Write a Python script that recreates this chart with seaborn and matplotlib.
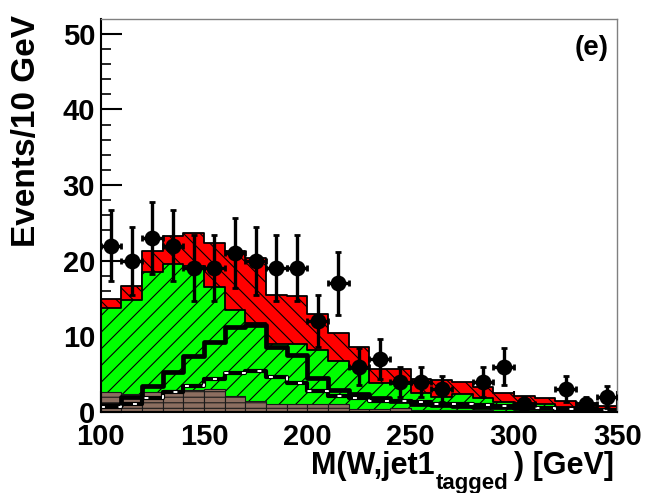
import numpy as np
import pandas as pd
import matplotlib
matplotlib.use("Agg")
import matplotlib.pyplot as plt
import seaborn as sns
from matplotlib.ticker import MultipleLocator

# ---------------- data ----------------
bin_lo = list(range(100, 350, 10))          # 25 bins of 10 GeV, 100..350
bin_edges = list(range(100, 351, 10))

brown = [2.6, 2.4, 2.7, 2.9, 2.9, 3.0, 2.1, 1.5, 1.1, 1.0, 1.0, 1.0, 0.4,
         0.4, 0.5, 0.3, 0.25, 0.2, 0.2, 0.15, 0.15, 0.1, 0.1, 0.1, 0.1]
green = [11.1, 12.4, 15.8, 16.6, 16.4, 13.5, 11.4, 10.3, 7.9, 8.0, 7.2, 5.8,
         5.3, 3.4, 3.2, 2.2, 1.75, 2.2, 1.6, 1.15, 1.05, 1.0, 0.6, 0.6, 0.35]
red = [1.2, 1.8, 2.8, 3.7, 4.4, 5.9, 7.8, 8.6, 6.4, 6.3, 4.7, 3.6, 2.9, 1.9,
       2.0, 1.9, 2.2, 1.5, 1.5, 1.2, 0.9, 0.7, 0.7, 0.5, 0.4]
signal_solid = [0.9, 2.0, 3.5, 5.3, 7.4, 9.3, 11.2, 11.5, 8.6, 7.6, 4.5, 2.9,
                2.4, 1.8, 1.5, 1.0, 0.9, 0.8, 0.7, 0.6, 0.5, 0.5, 0.4, 0.4, 0.3]
signal_dashed = [0.6, 1.0, 1.8, 2.6, 3.5, 4.4, 5.1, 5.4, 4.6, 3.8, 2.8, 2.1,
                 1.8, 1.5, 1.4, 1.3, 1.1, 1.0, 0.9, 0.75, 0.6, 0.5, 0.4, 0.4, 0.3]
data_counts = [22, 20, 23, 22, 19, 19, 21, 20, 19, 19, 12, 17, 6, 7, 4, 4, 3,
               0, 4, 6, 1, 0, 3, 1, 2]

x_ticks = [100, 150, 200, 250, 300, 350]
y_ticks = [0, 10, 20, 30, 40, 50]

# ---------------- style ----------------
sns.set_style("ticks")
plt.rcParams["font.family"] = ["Liberation Sans", "DejaVu Sans"]
plt.rcParams["font.weight"] = "bold"
plt.rcParams["hatch.linewidth"] = 0.8
plt.rcParams["text.color"] = "black"
plt.rcParams["xtick.labelcolor"] = "black"
plt.rcParams["ytick.labelcolor"] = "black"

df = pd.DataFrame({
    "center": [b + 5 for b in bin_lo],
    "brown": brown,
    "green_top": np.array(brown) + np.array(green),
})
df["total"] = df["green_top"] + np.array(red)
df["sig_solid"] = signal_solid
df["sig_dashed"] = signal_dashed
df["data"] = np.array(data_counts, dtype=float)

fig = plt.figure(figsize=(6.46, 4.93), dpi=100)
ax = fig.add_axes([0.1559, 0.1643, 0.7997, 0.7972])

# stacked backgrounds, drawn from the top of the stack down
sns.histplot(data=df, x="center", weights="total", bins=bin_edges, element="step",
             fill=True, color="#ff0000", alpha=1, edgecolor="black",
             linewidth=1.3, ax=ax)
ax.collections[-1].set_hatch("\\\\")
ax.collections[-1].set_edgecolor("black")

sns.histplot(data=df, x="center", weights="green_top", bins=bin_edges, element="step",
             fill=True, color="#00ff00", alpha=1, edgecolor="black",
             linewidth=1.3, ax=ax)
ax.collections[-1].set_hatch("//")
ax.collections[-1].set_edgecolor("black")

sns.histplot(data=df, x="center", weights="brown", bins=bin_edges, element="bars",
             fill=True, color="#8c6e60", alpha=1, edgecolor="black",
             linewidth=0.8, ax=ax)
for p in ax.patches:
    p.set_hatch("---")
    p.set_edgecolor("#1a1a1a")

# signal-like line histograms
sns.histplot(data=df, x="center", weights="sig_solid", bins=bin_edges, element="step",
             fill=False, color="black", linewidth=3.4, ax=ax)
sns.histplot(data=df, x="center", weights="sig_dashed", bins=bin_edges, element="step",
             fill=False, color="black", linewidth=3.0, ax=ax)
sns.histplot(data=df, x="center", weights="sig_dashed", bins=bin_edges, element="step",
             fill=False, color="white", linewidth=1.4, linestyle=(0, (2, 7)), ax=ax)

# data points
dd = df[df["data"] > 0]
ax.errorbar(dd["center"], dd["data"], yerr=np.sqrt(dd["data"]), xerr=5,
            fmt="none", ecolor="black", elinewidth=2.4, capsize=2.5,
            capthick=2, zorder=9)
sns.scatterplot(data=dd, x="center", y="data", color="black", s=130,
                edgecolor="black", linewidth=0, zorder=10, ax=ax)

# ---------------- axes ----------------
ax.set_xlim(100, 350)
ax.set_ylim(0, 51.95)
ax.set_xticks(x_ticks)
ax.set_yticks(y_ticks)
ax.set_xticklabels([str(v) for v in x_ticks])
ax.set_yticklabels([str(v) for v in y_ticks])
ax.xaxis.set_minor_locator(MultipleLocator(10))
ax.yaxis.set_minor_locator(MultipleLocator(2))
ax.tick_params(axis="both", which="major", direction="in", length=15,
               width=1.5, labelsize=21, color="black", labelcolor="black")
ax.tick_params(axis="both", which="minor", direction="in", length=7,
               width=1.2, color="black")
ax.tick_params(axis="x", which="major", pad=8)
ax.tick_params(axis="y", which="major", pad=4)
for lab in ax.get_xticklabels() + ax.get_yticklabels():
    lab.set_fontweight("bold")
ax.set_xlabel("")
ax.set_ylabel("")
for s in ["left", "bottom"]:
    ax.spines[s].set_color("black")
    ax.spines[s].set_linewidth(1.5)
for s in ["top", "right"]:
    ax.spines[s].set_visible(True)
    ax.spines[s].set_color("#808080")
    ax.spines[s].set_linewidth(1.0)

# titles
fig.text(27 / 646, 1 - 131 / 493, "Events/10 GeV", rotation=90, ha="center",
         va="center", fontsize=24, fontweight="bold", color="black")
fig.text(311 / 646, 1 - 474 / 493, "M(W,jet1", ha="left", va="baseline",
         fontsize=22, fontweight="bold", color="black")
fig.text(436 / 646, 1 - 489 / 493, "tagged", ha="left", va="baseline",
         fontsize=16, fontweight="bold", color="black")
fig.text(514 / 646, 1 - 474 / 493, ") [GeV]", ha="left", va="baseline",
         fontsize=22, fontweight="bold", color="black")
fig.text(592 / 646, 1 - 48 / 493, "(e)", ha="center", va="center",
         fontsize=20, fontweight="bold", color="black")

fig.savefig("out.png", dpi=100)
